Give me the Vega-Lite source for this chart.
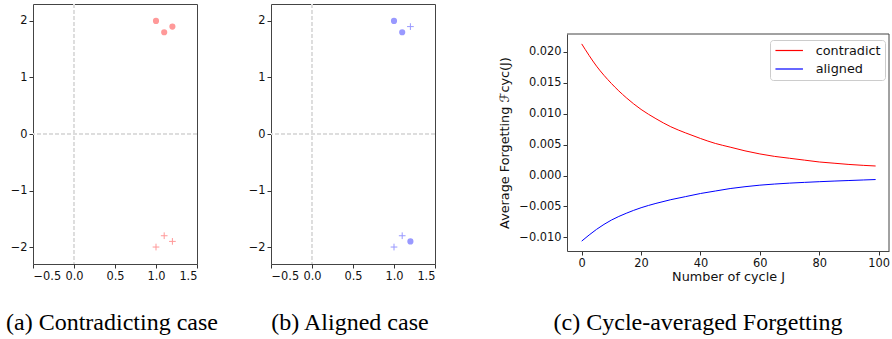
{
  "$schema": "https://vega.github.io/schema/vega-lite/v6.json",
  "padding": {"left": 5, "top": 3, "right": 0, "bottom": 0},
  "background": "white",
  "config": {
    "font": "DejaVu Sans",
    "view": {"stroke": "#444444", "strokeWidth": 1},
    "axis": {
      "grid": false,
      "domain": false,
      "domainColor": "#444444",
      "domainWidth": 1,
      "tickColor": "#333333",
      "tickSize": 4,
      "tickWidth": 1,
      "labelFont": "DejaVu Sans",
      "labelFontSize": 11.4,
      "labelColor": "#111111",
      "labelPadding": 2,
      "labelExpr": "replace(datum.label, '-', '\u2212')",
      "titleFont": "DejaVu Sans",
      "titleFontSize": 12.8,
      "titleFontWeight": "normal",
      "titleColor": "#111111"
    },
    "title": {"font": "Liberation Serif", "fontSize": 24, "fontWeight": "normal", "color": "#000000"}
  },
  "datasets": {
    "points": [
      {"panel": "a", "marker": "o", "x": 1.0, "y": 2.0},
      {"panel": "a", "marker": "o", "x": 1.1, "y": 1.8},
      {"panel": "a", "marker": "o", "x": 1.2, "y": 1.9},
      {"panel": "a", "marker": "+", "x": 1.0, "y": -2.0},
      {"panel": "a", "marker": "+", "x": 1.1, "y": -1.8},
      {"panel": "a", "marker": "+", "x": 1.2, "y": -1.9},
      {"panel": "b", "marker": "o", "x": 1.0, "y": 2.0},
      {"panel": "b", "marker": "o", "x": 1.1, "y": 1.8},
      {"panel": "b", "marker": "o", "x": 1.2, "y": -1.9},
      {"panel": "b", "marker": "+", "x": 1.2, "y": 1.9},
      {"panel": "b", "marker": "+", "x": 1.0, "y": -2.0},
      {"panel": "b", "marker": "+", "x": 1.1, "y": -1.8}
    ],
    "forget": [
      {"J": 0, "F": 0.0213, "series": "contradict"},
      {"J": 5, "F": 0.0177, "series": "contradict"},
      {"J": 10, "F": 0.0149, "series": "contradict"},
      {"J": 15, "F": 0.0126, "series": "contradict"},
      {"J": 20, "F": 0.0107, "series": "contradict"},
      {"J": 25, "F": 0.0092, "series": "contradict"},
      {"J": 30, "F": 0.0079, "series": "contradict"},
      {"J": 35, "F": 0.0069, "series": "contradict"},
      {"J": 40, "F": 0.0060, "series": "contradict"},
      {"J": 45, "F": 0.0052, "series": "contradict"},
      {"J": 50, "F": 0.0046, "series": "contradict"},
      {"J": 55, "F": 0.0040, "series": "contradict"},
      {"J": 60, "F": 0.0035, "series": "contradict"},
      {"J": 65, "F": 0.0031, "series": "contradict"},
      {"J": 70, "F": 0.0028, "series": "contradict"},
      {"J": 75, "F": 0.0025, "series": "contradict"},
      {"J": 80, "F": 0.0022, "series": "contradict"},
      {"J": 85, "F": 0.0020, "series": "contradict"},
      {"J": 90, "F": 0.0018, "series": "contradict"},
      {"J": 95, "F": 0.00165, "series": "contradict"},
      {"J": 99, "F": 0.00155, "series": "contradict"},
      {"J": 0, "F": -0.0106, "series": "aligned"},
      {"J": 5, "F": -0.0087, "series": "aligned"},
      {"J": 10, "F": -0.0072, "series": "aligned"},
      {"J": 15, "F": -0.0061, "series": "aligned"},
      {"J": 20, "F": -0.0052, "series": "aligned"},
      {"J": 25, "F": -0.0045, "series": "aligned"},
      {"J": 30, "F": -0.0039, "series": "aligned"},
      {"J": 35, "F": -0.0034, "series": "aligned"},
      {"J": 40, "F": -0.0029, "series": "aligned"},
      {"J": 45, "F": -0.0025, "series": "aligned"},
      {"J": 50, "F": -0.0021, "series": "aligned"},
      {"J": 55, "F": -0.0018, "series": "aligned"},
      {"J": 60, "F": -0.00155, "series": "aligned"},
      {"J": 65, "F": -0.00137, "series": "aligned"},
      {"J": 70, "F": -0.00122, "series": "aligned"},
      {"J": 75, "F": -0.0011, "series": "aligned"},
      {"J": 80, "F": -0.00099, "series": "aligned"},
      {"J": 85, "F": -0.00089, "series": "aligned"},
      {"J": 90, "F": -0.0008, "series": "aligned"},
      {"J": 95, "F": -0.00071, "series": "aligned"},
      {"J": 99, "F": -0.00064, "series": "aligned"}
    ],
    "frame": [
      {"J0": -4.95, "J1": 103.5, "Fmin": -0.0122, "Fmax": 0.0229}
    ]
  },
  "bounds": "flush",
  "spacing": 0,
  "resolve": {"scale": {"color": "independent"}, "legend": {"color": "independent"}},
  "hconcat": [
    {
      "width": 164,
      "height": 260,
      "title": {"text": "(a) Contradicting case", "orient": "bottom", "offset": 30, "dx": -3, "baseline": "top"},
      "data": {"name": "points"},
      "transform": [{"filter": "datum.panel === 'a'"}],
      "layer": [
        {"mark": {"type": "rule", "color": "#dddddd", "strokeDash": [4, 2], "strokeWidth": 1}, "encoding": {"x": {"datum": 0, "type": "quantitative"}}},
        {"mark": {"type": "rule", "color": "#dddddd", "strokeDash": [4, 2], "strokeWidth": 1}, "encoding": {"y": {"datum": 0, "type": "quantitative"}}},
        {
          "transform": [{"filter": "datum.marker === 'o'"}],
          "mark": {"type": "point", "shape": "circle", "filled": true, "size": 38, "color": "#ff9999", "opacity": 1},
          "encoding": {
            "x": {"field": "x", "type": "quantitative", "scale": {"domain": [-0.5, 1.5], "nice": false, "zero": false}, "axis": {"values": [-0.5, 0, 0.5, 1, 1.5], "format": ".1f", "title": null}},
            "y": {"field": "y", "type": "quantitative", "scale": {"domain": [-2.3, 2.3], "nice": false, "zero": false}, "axis": {"values": [-2, -1, 0, 1, 2], "format": "d", "title": null}}
          }
        },
        {
          "transform": [{"filter": "datum.marker === '+'"}],
          "mark": {"type": "point", "shape": "M-1,0H1M0,-1V1", "filled": false, "size": 45, "strokeWidth": 1, "color": "#ff9999", "opacity": 1},
          "encoding": {
            "x": {"field": "x", "type": "quantitative"},
            "y": {"field": "y", "type": "quantitative"}
          }
        }
      ]
    },
    {
      "width": 74,
      "height": 1,
      "view": {"stroke": null},
      "data": {"values": []},
      "mark": "point",
      "encoding": {}
    },
    {
      "width": 164,
      "height": 260,
      "title": {"text": "(b) Aligned case", "orient": "bottom", "offset": 30, "dx": -3, "baseline": "top"},
      "data": {"name": "points"},
      "transform": [{"filter": "datum.panel === 'b'"}],
      "layer": [
        {"mark": {"type": "rule", "color": "#dddddd", "strokeDash": [4, 2], "strokeWidth": 1}, "encoding": {"x": {"datum": 0, "type": "quantitative"}}},
        {"mark": {"type": "rule", "color": "#dddddd", "strokeDash": [4, 2], "strokeWidth": 1}, "encoding": {"y": {"datum": 0, "type": "quantitative"}}},
        {
          "transform": [{"filter": "datum.marker === 'o'"}],
          "mark": {"type": "point", "shape": "circle", "filled": true, "size": 38, "color": "#9999ff", "opacity": 1},
          "encoding": {
            "x": {"field": "x", "type": "quantitative", "scale": {"domain": [-0.5, 1.5], "nice": false, "zero": false}, "axis": {"values": [-0.5, 0, 0.5, 1, 1.5], "format": ".1f", "title": null}},
            "y": {"field": "y", "type": "quantitative", "scale": {"domain": [-2.3, 2.3], "nice": false, "zero": false}, "axis": {"values": [-2, -1, 0, 1, 2], "format": "d", "title": null}}
          }
        },
        {
          "transform": [{"filter": "datum.marker === '+'"}],
          "mark": {"type": "point", "shape": "M-1,0H1M0,-1V1", "filled": false, "size": 45, "strokeWidth": 1, "color": "#9999ff", "opacity": 1},
          "encoding": {
            "x": {"field": "x", "type": "quantitative"},
            "y": {"field": "y", "type": "quantitative"}
          }
        }
      ]
    },
    {
      "width": 132,
      "height": 1,
      "view": {"stroke": null},
      "data": {"values": []},
      "mark": "point",
      "encoding": {}
    },
    {
      "width": 322,
      "height": 247,
      "view": {"stroke": null},
      "title": {"text": "(c) Cycle-averaged Forgetting", "orient": "bottom", "offset": 28, "dx": -30, "baseline": "top"},
      "layer": [
        {
          "data": {"name": "frame"},
          "mark": {"type": "rule", "color": "#444444", "strokeWidth": 1},
          "encoding": {
            "x": {"field": "J0", "type": "quantitative"},
            "x2": {"field": "J1"},
            "y": {"field": "Fmax", "type": "quantitative"}
          }
        },
        {
          "data": {"name": "frame"},
          "mark": {"type": "rule", "color": "#444444", "strokeWidth": 1},
          "encoding": {
            "x": {"field": "J1", "type": "quantitative"},
            "y": {"field": "Fmin", "type": "quantitative"},
            "y2": {"field": "Fmax"}
          }
        },
        {
          "data": {"name": "forget"},
          "mark": {"type": "line", "strokeWidth": 1, "interpolate": "monotone"},
          "encoding": {
            "x": {"field": "J", "type": "quantitative", "scale": {"domain": [-4.95, 103.5], "nice": false, "zero": false}, "axis": {"values": [0, 20, 40, 60, 80, 100], "title": "Number of cycle J", "titlePadding": 2, "domain": true}},
            "y": {"field": "F", "type": "quantitative", "scale": {"domain": [-0.0122, 0.0229], "range": [247, 30], "nice": false, "zero": false}, "axis": {"values": [-0.01, -0.005, 0, 0.005, 0.01, 0.015, 0.02], "format": ".3f", "title": "Average Forgetting ℱcyc(J)", "titlePadding": 7, "domain": true}},
            "color": {
              "field": "series",
              "type": "nominal",
              "sort": ["contradict", "aligned"],
              "scale": {"domain": ["contradict", "aligned"], "range": ["#ff0000", "#0000ff"]},
              "legend": {
                "title": null,
                "orient": "none",
                "legendX": 203,
                "legendY": 36,
                "padding": 4,
                "strokeColor": "#cccccc",
                "fillColor": "white",
                "cornerRadius": 3,
                "symbolType": "M-2.5,0H2.5",
                "symbolSize": 121,
                "symbolStrokeWidth": 1.2,
                "symbolOffset": 8.7,
                "labelOffset": 20,
                "labelFont": "DejaVu Sans",
                "labelFontSize": 12.8,
                "labelColor": "#111111",
                "rowPadding": 4.5
              }
            }
          }
        }
      ]
    }
  ]
}
